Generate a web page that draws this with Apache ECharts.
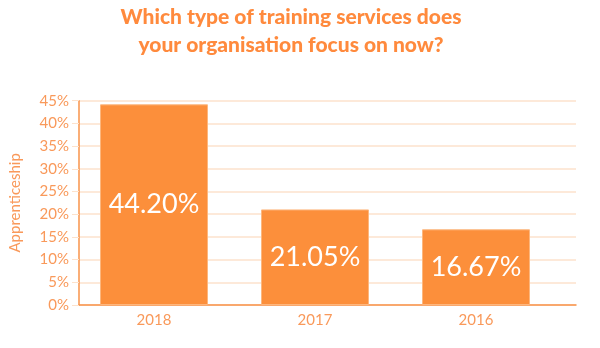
<!DOCTYPE html>
<html>
<head>
<meta charset="utf-8">
<script src="https://cdn.jsdelivr.net/npm/echarts@6/dist/echarts.min.js"></script>
<style>html,body{margin:0;padding:0;background:#fff}#c{width:600px;height:348px}</style>
</head>
<body>
<div id="c"></div>
<script>
const categories = ['2018', '2017', '2016'];
const values = [44.20, 21.05, 16.67];
const yTicks = [0, 5, 10, 15, 20, 25, 30, 35, 40, 45];
const titleText = 'Which type of training services does\nyour organisation focus on now?';
const yName = 'Apprenticeship';

const yMin = yTicks[0], yMax = yTicks[yTicks.length - 1];
const chart = echarts.init(document.getElementById('c'));
chart.setOption({
  animation: false,
  title: {
    text: titleText,
    left: 286,
    top: -2,
    textAlign: 'center',
    textStyle: {
      color: '#FF8A3D',
      fontFamily: 'Lato',
      fontWeight: 900,
      fontSize: 21,
      lineHeight: 28
    }
  },
  grid: [
    { left: 71, right: 24, top: 100.7, bottom: 43 },
    { left: 73.5, right: 43.5, top: 100.7, bottom: 43 }
  ],
  xAxis: [{
    gridIndex: 0,
    type: 'category',
    data: categories,
    axisLine: { lineStyle: { color: '#F8934A', width: 1.5 } },
    axisTick: { show: false },
    axisLabel: { show: false }
  }, {
    gridIndex: 1,
    type: 'category',
    data: categories,
    axisLine: { show: false },
    axisTick: { show: false },
    axisLabel: { color: '#F9995A', fontFamily: 'Lato', fontSize: 15, margin: 8 }
  }],
  yAxis: [{
    gridIndex: 0,
    type: 'value',
    min: yMin,
    max: yMax,
    interval: 5,
    name: yName,
    nameLocation: 'middle',
    nameGap: 56,
    nameTextStyle: { color: '#F9995A', fontFamily: 'Lato', fontSize: 15 },
    axisLine: { show: true, lineStyle: { color: '#F8934A', width: 1.5 } },
    axisTick: { show: true, length: 7, lineStyle: { color: '#FDE2CC' } },
    axisLabel: { color: '#F9995A', fontFamily: 'Lato', fontSize: 15, margin: 10, formatter: '{value}%' },
    splitLine: { lineStyle: { color: '#FDE2CC', width: 1.5 } }
  }, {
    gridIndex: 1,
    type: 'value',
    min: yMin,
    max: yMax,
    interval: 5,
    show: false
  }],
  series: [{
    type: 'bar',
    xAxisIndex: 1,
    yAxisIndex: 1,
    data: values,
    barWidth: 108,
    itemStyle: { color: '#FC8F3B', borderColor: '#FDB77E', borderWidth: 1 },
    label: {
      show: true,
      position: 'inside',
      color: '#fff',
      fontFamily: 'Lato',
      fontSize: 27,
      formatter: p => p.value.toFixed(2) + '%'
    }
  }]
});
</script>
</body>
</html>
